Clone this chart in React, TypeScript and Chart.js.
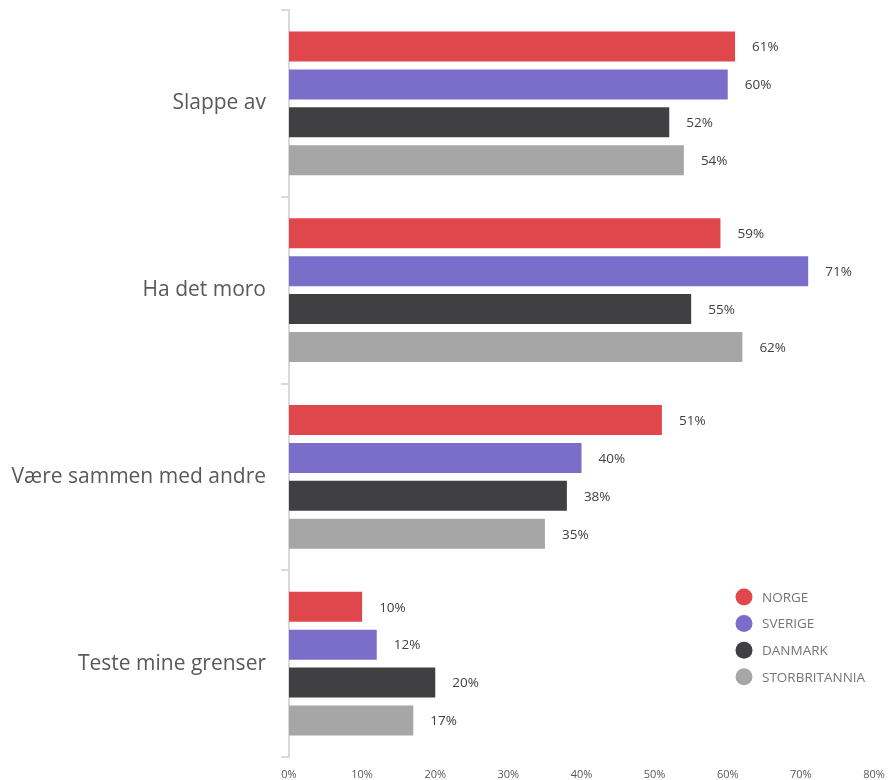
import React, { useEffect, useRef } from "react";
import { Chart, registerables } from "chart.js";

Chart.register(...registerables);

const categories = ["Slappe av", "Ha det moro", "Være sammen med andre", "Teste mine grenser"];
const seriesNames = ["NORGE", "SVERIGE", "DANMARK", "STORBRITANNIA"];
const seriesColors = ["#E0474C", "#7B6ECB", "#404042", "#A6A6A6"];
const norge = [61, 59, 51, 10];
const sverige = [60, 71, 40, 12];
const danmark = [52, 55, 38, 20];
const storbritannia = [54, 62, 35, 17];
const xTicks = [0, 10, 20, 30, 40, 50, 60, 70, 80];

const FONT = "'Open Sans', Lato, sans-serif";

const dataLabelPlugin = {
  id: "dataLabels",
  afterDatasetsDraw(chart: any) {
    const ctx = chart.ctx;
    ctx.save();
    ctx.font = `13.5px ${FONT}`;
    ctx.fillStyle = "#404040";
    ctx.textAlign = "left";
    ctx.textBaseline = "middle";
    chart.data.datasets.forEach((ds: any, i: number) => {
      const meta = chart.getDatasetMeta(i);
      meta.data.forEach((bar: any, j: number) => {
        ctx.fillText(ds.data[j] + "%", bar.x + 17, bar.y + 1);
      });
    });
    ctx.restore();
  },
};

const legendPlugin = {
  id: "customLegend",
  afterDraw(chart: any) {
    const ctx = chart.ctx;
    const ca = chart.chartArea;
    ctx.save();
    ctx.font = `13.5px ${FONT}`;
    ctx.textAlign = "left";
    ctx.textBaseline = "middle";
    const cx = ca.right - 130;
    const y0 = ca.bottom - 160;
    seriesNames.forEach((name, i) => {
      const y = y0 + i * 26.6;
      ctx.beginPath();
      ctx.fillStyle = seriesColors[i];
      ctx.arc(cx, y, 8.5, 0, Math.PI * 2);
      ctx.fill();
      ctx.fillStyle = "#767676";
      ctx.fillText(name, cx + 18, y + 1);
    });
    ctx.restore();
  },
};

export default function App() {
  const ref = useRef<HTMLCanvasElement>(null);
  useEffect(() => {
    const seriesValues = [norge, sverige, danmark, storbritannia];
    const chart = new Chart(ref.current!, {
      type: "bar",
      data: {
        labels: categories,
        datasets: seriesNames.map((name, i) => ({
          label: name,
          data: seriesValues[i],
          backgroundColor: seriesColors[i],
          categoryPercentage: 0.813,
          barPercentage: 0.79,
        })),
      },
      options: {
        indexAxis: "y",
        animation: false,
        responsive: false,
        maintainAspectRatio: false,
        layout: { padding: { top: 10, right: 0, left: 0, bottom: 0 } },
        plugins: { legend: { display: false }, tooltip: { enabled: false } },
        scales: {
          x: {
            min: 0,
            max: 80,
            afterBuildTicks: (scale: any) => {
              scale.ticks = xTicks.map((v) => ({ value: v }));
            },
            afterFit: (scale: any) => {
              scale.height = 23;
              scale.paddingLeft = 0;
              scale.paddingRight = 14;
            },
            grid: { display: false, drawTicks: false },
            border: { display: false },
            ticks: {
              padding: 11,
              color: "#595959",
              font: { family: FONT, size: 11 },
              callback: (v: any) => v + "%",
              maxRotation: 0,
            },
          },
          y: {
            afterFit: (scale: any) => {
              scale.width = 289;
              scale.paddingTop = 0;
              scale.paddingBottom = 0;
            },
            grid: {
              drawOnChartArea: false,
              drawTicks: true,
              tickLength: 8,
              color: "#D9D9D9",
              lineWidth: 2,
              offset: true,
            },
            border: { display: true, color: "#D9D9D9", width: 2 },
            ticks: {
              padding: 15,
              color: "#595959",
              font: { family: FONT, size: 21 },
            },
          },
        },
      },
      plugins: [dataLabelPlugin, legendPlugin],
    });
    return () => chart.destroy();
  }, []);
  return (
    <div style={{ position: "fixed", left: 0, top: 0, width: 888, height: 780, background: "#fff" }}>
      <canvas ref={ref} width={888} height={780} style={{ width: 888, height: 780 }} />
    </div>
  );
}
